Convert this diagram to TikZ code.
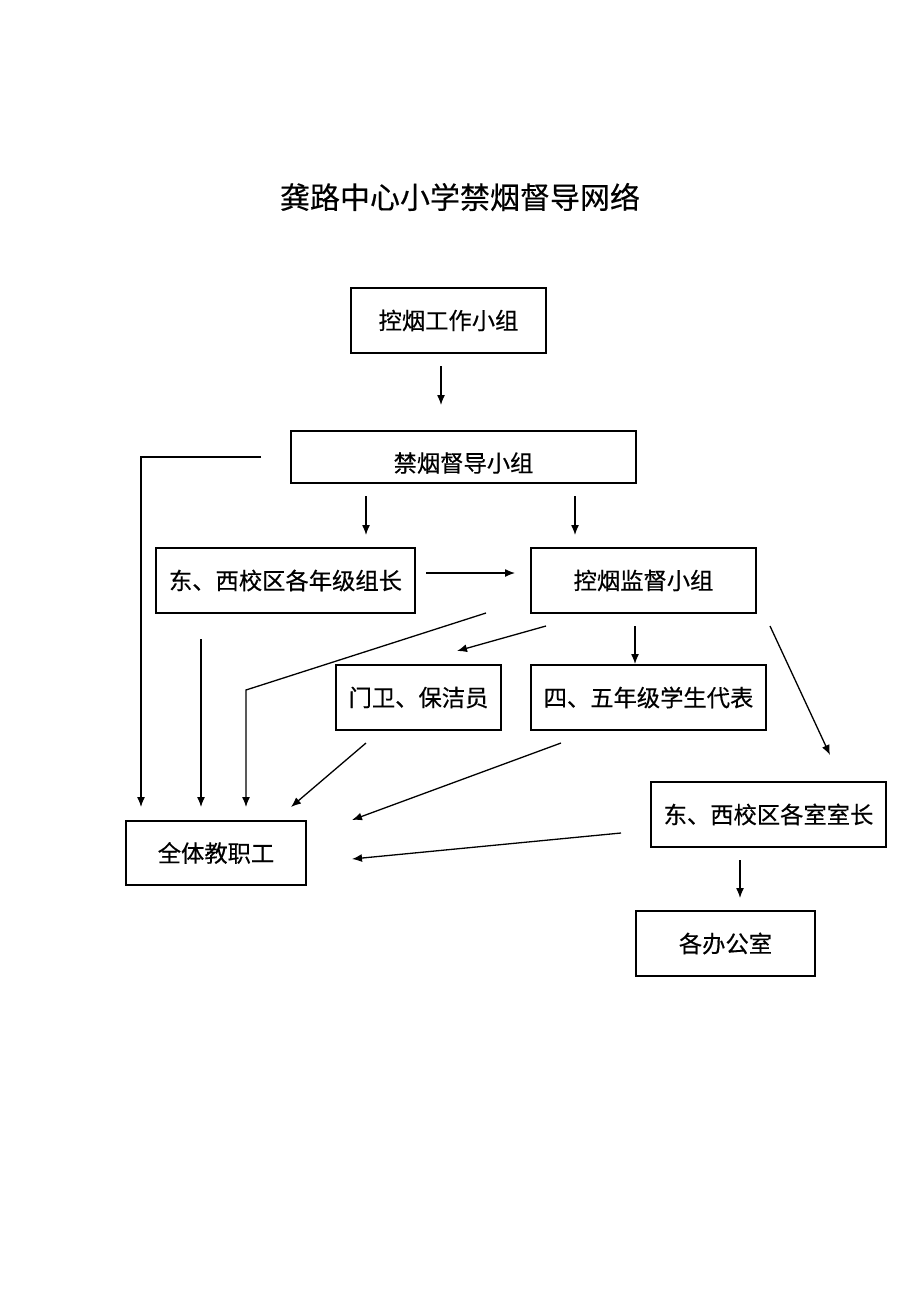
\documentclass[tikz,border=0pt]{standalone}
\usepackage{fontspec}
\newfontfamily\cjk[FakeBold=0.4]{Noto Sans CJK SC}
\usetikzlibrary{arrows.meta}
\begin{document}
\begin{tikzpicture}[x=1pt,y=-1pt,
  box/.style={draw=black,line width=1.1pt,inner sep=0pt,font=\cjk\fontsize{23.3}{27}\selectfont},
  arr/.style={line width=1.3pt,-{Latex[length=10pt,width=8pt]}},
  ln/.style={line width=1.3pt}]
\useasboundingbox (0,0) rectangle (920,1298);
\node[font=\cjk\fontsize{30}{35}\selectfont] (title) at (460,197) {龚路中心小学禁烟督导网络};
\node[box,minimum width=195pt,minimum height=65pt] (b1) at (448.5,320.5) {控烟工作小组};
\node[box,minimum width=345pt,minimum height=52pt] (b2) at (463.5,457) {};
\node[font=\cjk\fontsize{23.3}{27}\selectfont] (b2t) at (463.5,463) {禁烟督导小组};
\node[box,minimum width=259pt,minimum height=65pt] (b3) at (285.5,580.5) {东、西校区各年级组长};
\node[box,minimum width=225pt,minimum height=65pt] (b4) at (643.5,580.5) {控烟监督小组};
\node[box,minimum width=165pt,minimum height=65pt] (b5) at (418.5,697.5) {门卫、保洁员};
\node[box,minimum width=235pt,minimum height=65pt] (b6) at (648.5,697.5) {四、五年级学生代表};
\node[box,minimum width=235pt,minimum height=65pt] (b7) at (768.5,814.5) {东、西校区各室室长};
\node[box,minimum width=180pt,minimum height=64pt] (b8) at (216,853) {全体教职工};
\node[box,minimum width=179pt,minimum height=65pt] (b9) at (725.5,943.5) {各办公室};
% coordinates
\coordinate (a1s) at (441,366); \coordinate (a1e) at (441,405);
\coordinate (l1s) at (261,457); \coordinate (l1c) at (141,457); \coordinate (l1e) at (141,807);
\coordinate (a2s) at (366,496); \coordinate (a2e) at (366,535);
\coordinate (a3s) at (575,496); \coordinate (a3e) at (575,535);
\coordinate (a4s) at (426,573); \coordinate (a4e) at (515,573);
\coordinate (a5s) at (201,639); \coordinate (a5e) at (201,807);
\coordinate (l2s) at (486,613); \coordinate (l2c) at (246,690); \coordinate (l2e) at (246,807);
\coordinate (a6s) at (546,626); \coordinate (a6e) at (457,651);
\coordinate (a7s) at (635,626); \coordinate (a7e) at (635,664);
\coordinate (a8s) at (770,626); \coordinate (a8e) at (830,755);
\coordinate (a9s) at (366,743); \coordinate (a9e) at (291,807);
\coordinate (a10s) at (561,743); \coordinate (a10e) at (352,820);
\coordinate (a11s) at (621,833); \coordinate (a11e) at (352,859);
\coordinate (a12s) at (740,860); \coordinate (a12e) at (740,898);
\draw[arr] (a1s) -- (a1e);
\draw[arr] (l1s) -- (l1c) -- (l1e);
\draw[arr] (a2s) -- (a2e);
\draw[arr] (a3s) -- (a3e);
\draw[arr] (a4s) -- (a4e);
\draw[arr] (a5s) -- (a5e);
\draw[arr] (l2s) -- (l2c) -- (l2e);
\draw[arr] (a6s) -- (a6e);
\draw[arr] (a7s) -- (a7e);
\draw[arr] (a8s) -- (a8e);
\draw[arr] (a9s) -- (a9e);
\draw[arr] (a10s) -- (a10e);
\draw[arr] (a11s) -- (a11e);
\draw[arr] (a12s) -- (a12e);
\end{tikzpicture}
\end{document}
